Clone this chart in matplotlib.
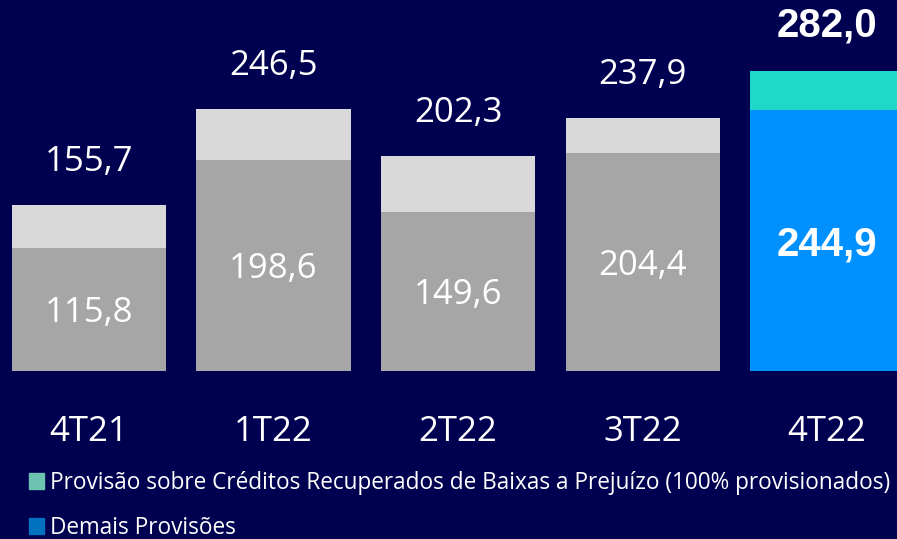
import matplotlib
matplotlib.use("Agg")
import matplotlib.pyplot as plt
from matplotlib.patches import Patch

categories = ["4T21", "1T22", "2T22", "3T22", "4T22"]
demais = [115.8, 198.6, 149.6, 204.4, 244.9]
totals = [155.7, 246.5, 202.3, 237.9, 282.0]
recuperados = [round(t - d, 1) for t, d in zip(totals, demais)]

def fmt(v):
    return f"{v:.1f}".replace(".", ",")

BG = "#000050"
bottom_colors = ["#A6A6A6"] * 4 + ["#0091FF"]
top_colors = ["#D9D9D9"] * 4 + ["#1FD8C8"]
FONT = "Open Sans"
BOLD = "Liberation Sans"

fig = plt.figure(figsize=(8.97, 5.39), dpi=100, facecolor=BG)
ax = fig.add_axes([0, 1 - 370.7 / 539, 1, 370.7 / 539])
ax.set_facecolor(BG)
x = list(range(len(categories)))
ax.bar(x, demais, width=0.835, color=bottom_colors, linewidth=0)
ax.bar(x, recuperados, bottom=demais, width=0.835, color=top_colors, linewidth=0)
ax.set_xlim(-0.4824, 4.379)
ax.set_ylim(0, 348.7)
for s in ax.spines.values():
    s.set_visible(False)
ax.set_yticks([])
ax.set_xticks(x)
ax.set_xticklabels(categories)
ax.tick_params(axis="x", length=0, pad=32, labelsize=25, labelcolor="white")
for t in ax.get_xticklabels():
    t.set_fontfamily(FONT)

last = len(categories) - 1
for i in x:
    bold = i == last
    fam = BOLD if bold else FONT
    w = "bold" if bold else "normal"
    fs = 29 if bold else 25
    ax.annotate(fmt(totals[i]), (i, totals[i]), xytext=(0, 31 if not bold else 33),
                textcoords="offset points",
                ha="center", va="center", color="white", fontsize=fs, family=fam, fontweight=w)
    ax.annotate(fmt(demais[i]), (i, demais[i] / 2), xytext=(0, -3), textcoords="offset points",
                ha="center", va="center", color="white", fontsize=fs, family=fam, fontweight=w)

handles = [Patch(color="#6CC4B0", label="Provisão sobre Créditos Recuperados de Baixas a Prejuízo (100% provisionados)"),
           Patch(color="#0070C0", label="Demais Provisões")]
leg = fig.legend(handles=handles, loc="upper left", bbox_to_anchor=(29 / 897, 1 - 471 / 539),
                 frameon=False, ncol=1, handlelength=0.66, handleheight=0.66, handletextpad=0.27,
                 labelspacing=0.93, borderaxespad=0, borderpad=0,
                 prop={"family": FONT, "size": 16.3})
for t in leg.get_texts():
    t.set_color("white")

fig.savefig("out.png", dpi=100, facecolor=BG)
